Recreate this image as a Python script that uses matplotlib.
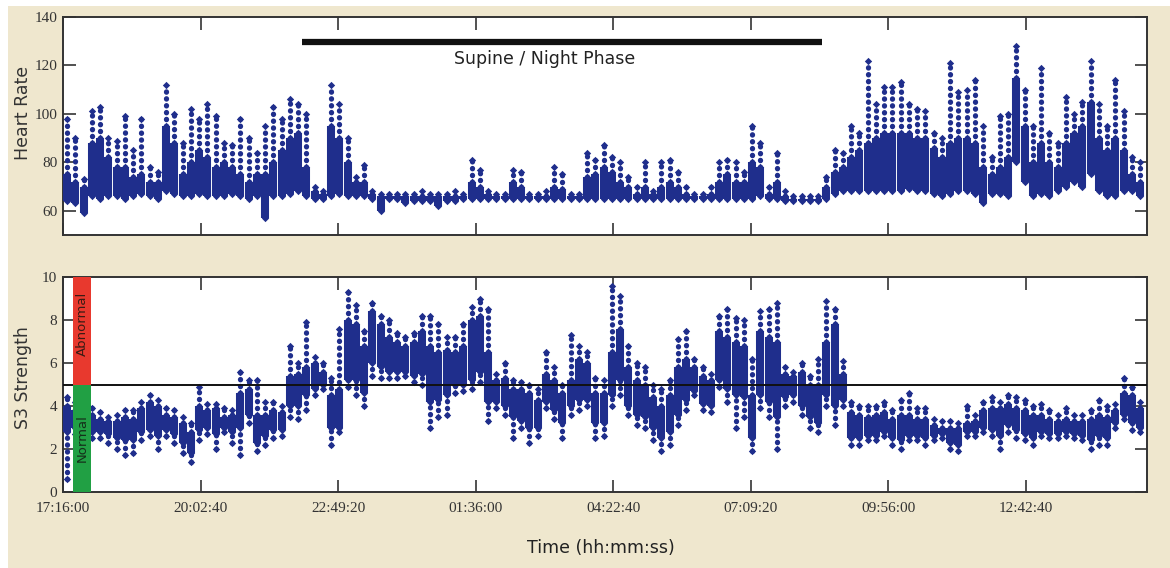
import numpy as np
import matplotlib.pyplot as plt
from matplotlib.patches import Rectangle

# 10-minute bins over the recording, seconds from 17:16:00
t = np.arange(131) * 600 + 300

# heart rate per bin: lower edge, top of dense band, top of sparse spike
hr_lo = [64, 63, 59, 66, 65, 66, 66, 65, 66, 67, 66, 65, 68, 67, 66, 66, 67, 66, 66, 66,
         67, 66, 65, 66, 57, 66, 66, 67, 68, 66, 65, 65, 66, 67, 66, 66, 66, 65, 60, 65,
         65, 63, 64, 64, 64, 62, 64, 64, 65, 65, 65, 65, 65, 65, 65, 65, 65, 65, 65, 65,
         65, 65, 65, 65, 65, 65, 65, 65, 65, 65, 65, 65, 65, 65, 65, 65, 65, 65, 65, 65,
         65, 65, 65, 65, 66, 65, 65, 64, 64, 64, 64, 64, 65, 67, 68, 68, 68, 68, 68, 68,
         68, 68, 69, 68, 68, 67, 66, 67, 68, 68, 67, 63, 67, 67, 66, 80, 72, 66, 67, 66,
         68, 70, 72, 70, 75, 68, 66, 66, 68, 68, 66]
hr_band = [75, 72, 70, 88, 90, 82, 78, 78, 74, 75, 72, 72, 95, 88, 75, 80, 85, 82, 78, 80,
           78, 75, 72, 75, 75, 80, 85, 90, 92, 78, 68, 67, 95, 90, 80, 72, 72, 67, 66, 66,
           66, 66, 66, 66, 66, 66, 66, 66, 66, 72, 70, 67, 66, 66, 72, 70, 66, 66, 66, 70,
           69, 66, 66, 74, 75, 78, 76, 72, 70, 67, 70, 67, 70, 72, 70, 67, 66, 66, 67, 72,
           75, 72, 72, 80, 78, 67, 72, 66, 65, 65, 65, 65, 70, 76, 78, 82, 85, 88, 90, 92,
           92, 92, 92, 90, 90, 86, 82, 88, 90, 90, 88, 78, 75, 78, 82, 115, 95, 80, 88, 80,
           78, 88, 92, 95, 105, 90, 85, 90, 85, 75, 72]
hr_peak = [98, 90, 73, 101, 103, 90, 89, 99, 85, 98, 78, 76, 112, 100, 88, 102, 98, 104, 99, 88,
           87, 98, 90, 84, 95, 103, 98, 106, 104, 100, 70, 68, 112, 104, 90, 74, 79, 68, 67, 67,
           67, 67, 67, 68, 67, 67, 67, 68, 67, 81, 77, 68, 67, 67, 77, 76, 67, 67, 68, 78,
           75, 67, 67, 84, 81, 87, 82, 80, 74, 70, 80, 68, 80, 81, 76, 70, 67, 67, 70, 80,
           81, 80, 76, 95, 88, 70, 84, 68, 66, 66, 66, 66, 74, 85, 84, 95, 92, 122, 104, 111,
           111, 113, 104, 102, 101, 92, 90, 121, 109, 110, 114, 95, 82, 99, 100, 128, 110, 95, 119, 92,
           88, 107, 100, 105, 122, 104, 95, 114, 101, 82, 80]

# S3 strength per bin: sparse low, dense band low/high, sparse high
s3_min = [0.6, 2.7, 2.6, 2.5, 2.5, 2.3, 2.0, 1.7, 1.8, 2.4, 2.6, 2.0, 2.6, 2.3, 1.8, 1.4, 2.4, 2.7, 2.0, 2.8,
          2.3, 1.7, 3.2, 1.9, 2.2, 2.5, 2.6, 3.5, 3.4, 3.8, 4.5, 4.8, 2.2, 2.8, 4.9, 4.5, 4.0, 5.4, 5.3, 5.3,
          5.3, 5.4, 5.1, 5.0, 3.0, 3.5, 3.6, 4.6, 4.7, 4.8, 5.1, 3.3, 3.9, 3.6, 2.5, 3.0, 2.3, 2.6, 3.9, 3.4,
          2.5, 3.6, 3.8, 4.0, 2.5, 2.6, 4.0, 4.5, 3.6, 3.1, 3.0, 2.4, 1.9, 2.2, 3.1, 3.8, 4.5, 3.8, 3.7, 4.9,
          4.2, 3.0, 3.5, 1.9, 3.9, 3.5, 2.0, 4.0, 4.2, 3.6, 3.0, 2.8, 4.0, 3.1, 4.0, 2.2, 2.2, 2.4, 2.4, 2.6,
          2.2, 2.0, 2.4, 2.4, 2.2, 2.4, 2.5, 2.0, 1.9, 2.6, 2.6, 2.8, 2.6, 2.0, 2.8, 2.5, 2.4, 2.2, 2.6, 2.5,
          2.5, 2.6, 2.5, 2.4, 2.0, 2.2, 2.2, 3.0, 3.4, 2.9, 2.8]
s3_lo = [2.8, 3.0, 2.9, 2.8, 2.8, 2.7, 2.5, 2.4, 2.4, 2.8, 2.9, 2.6, 2.9, 2.7, 2.3, 1.8, 2.9, 3.0, 2.7, 3.0,
         2.8, 3.0, 3.6, 2.3, 2.6, 2.9, 2.9, 4.0, 4.0, 4.5, 4.8, 5.0, 3.0, 3.0, 5.2, 5.2, 4.6, 6.0, 5.8, 5.6,
         5.6, 5.6, 5.4, 5.5, 4.2, 4.3, 4.5, 5.0, 5.0, 5.2, 5.6, 4.2, 4.2, 4.0, 3.5, 3.3, 3.0, 3.0, 4.2, 3.8,
         3.2, 4.0, 4.3, 4.3, 3.2, 3.2, 4.5, 5.2, 4.0, 3.6, 3.5, 3.0, 2.5, 2.8, 3.6, 4.3, 4.7, 4.1, 4.0, 5.2,
         4.8, 4.5, 4.4, 2.5, 4.5, 4.2, 3.5, 4.4, 4.5, 4.0, 3.5, 3.2, 4.5, 4.0, 4.3, 2.5, 2.5, 2.6, 2.6, 2.8,
         2.5, 2.4, 2.6, 2.6, 2.5, 2.6, 2.7, 2.3, 2.2, 2.8, 2.8, 3.0, 2.9, 2.6, 3.1, 2.9, 2.7, 2.5, 2.8, 2.7,
         2.7, 2.8, 2.7, 2.6, 2.4, 2.6, 2.5, 3.2, 3.6, 3.2, 3.0]
s3_hi = [4.0, 3.8, 3.7, 3.6, 3.4, 3.3, 3.3, 3.5, 3.4, 3.9, 4.2, 4.0, 3.6, 3.5, 3.2, 2.8, 4.0, 3.8, 3.9, 3.5,
         3.6, 4.6, 4.8, 3.6, 3.6, 3.8, 3.7, 5.4, 5.5, 5.8, 6.0, 5.6, 4.5, 4.8, 8.0, 7.8, 6.8, 8.4, 7.8, 7.2,
         7.0, 6.8, 7.0, 7.5, 6.8, 6.5, 6.6, 6.5, 6.8, 8.0, 8.2, 6.5, 5.2, 5.3, 4.8, 4.8, 4.6, 4.3, 5.5, 5.2,
         4.6, 5.2, 6.2, 6.0, 4.6, 4.6, 6.5, 7.6, 5.8, 5.2, 5.0, 4.4, 4.0, 4.5, 5.8, 6.2, 5.8, 5.4, 5.2, 7.5,
         7.2, 7.0, 6.8, 4.5, 7.5, 7.2, 7.0, 5.5, 5.4, 5.6, 5.0, 5.0, 7.0, 7.8, 5.5, 3.7, 3.6, 3.5, 3.6, 3.7,
         3.4, 3.6, 3.6, 3.4, 3.4, 3.1, 3.0, 3.0, 3.0, 3.2, 3.3, 3.8, 3.9, 3.9, 4.1, 3.9, 3.8, 3.6, 3.6, 3.4,
         3.3, 3.4, 3.3, 3.3, 3.4, 3.6, 3.5, 3.8, 4.6, 4.5, 3.9]
s3_max = [4.4, 4.2, 4.0, 3.9, 3.7, 3.5, 3.6, 3.8, 3.8, 4.2, 4.5, 4.3, 3.9, 3.8, 3.5, 3.2, 4.9, 4.1, 4.1, 3.9,
          3.8, 5.6, 5.2, 5.2, 4.2, 4.2, 4.0, 6.8, 6.0, 7.9, 6.3, 6.0, 5.3, 7.6, 9.3, 8.7, 7.5, 8.8, 8.2, 8.0,
          7.4, 7.2, 7.4, 8.2, 8.2, 7.8, 7.2, 7.2, 7.8, 8.6, 9.0, 8.5, 5.5, 6.0, 5.2, 5.1, 5.0, 4.8, 6.5, 5.8,
          5.0, 7.3, 6.8, 6.5, 5.3, 5.2, 9.6, 9.1, 6.8, 6.0, 5.8, 5.0, 4.8, 5.2, 7.1, 7.5, 6.2, 5.8, 5.5, 8.2,
          8.5, 8.1, 8.0, 6.2, 8.4, 8.5, 8.8, 5.8, 5.6, 6.0, 5.4, 6.2, 8.9, 8.5, 6.1, 4.2, 4.0, 4.0, 4.0, 4.2,
          3.8, 4.3, 4.6, 3.9, 3.9, 3.4, 3.3, 3.3, 3.2, 4.0, 3.6, 4.2, 4.4, 4.2, 4.5, 4.4, 4.3, 4.0, 4.1, 3.8,
          3.6, 3.9, 3.6, 3.6, 3.8, 4.3, 4.0, 4.1, 5.3, 4.9, 4.2]

tick_secs = [0, 10000, 20000, 30000, 40000, 50000, 60000, 70000]
tick_labels = ['17:16:00', '20:02:40', '22:49:20', '01:36:00',
               '04:22:40', '07:09:20', '09:56:00', '12:42:40']
night_phase = (17400, 55200)
s3_threshold = 5
zone_x = (730, 2030)

DOT = '#1f2e8c'
BEIGE = '#efe7ce'
INK = '#333333'
tick_font = dict(family='Liberation Serif', size=11, color=INK)


def style_axes(ax, xpad=4):
    for s in ax.spines.values():
        s.set_color(INK)
        s.set_linewidth(1.4)
    ax.tick_params(which='both', direction='in', length=9, width=1.2, color=INK,
                   top=True, right=True, pad=4)
    ax.tick_params(axis='x', pad=xpad)
    ax.set_xlim(0, 78800)
    ax.set_xticks(tick_secs)
    for lab in ax.get_yticklabels():
        lab.set(**tick_font)


def diamonds(ax, y):
    ax.scatter(t, y, marker='D', s=14, color=DOT, lw=0, zorder=4)


def scatter_bins(ax, lo, hi, tail_lo=None, tail_hi=None):
    # dense part of each bin as a solid column, sparse tails as stacked dots
    ax.vlines(t, lo, hi, color=DOT, lw=5.8, zorder=3)
    diamonds(ax, lo)
    diamonds(ax, hi)
    if tail_lo is not None:
        ax.vlines(t, tail_lo, lo, color=DOT, lw=3.8, linestyles=(0, (0.05, 1.25)),
                  capstyle='round', zorder=3)
        diamonds(ax, tail_lo)
    if tail_hi is not None:
        ax.vlines(t, hi, tail_hi, color=DOT, lw=3.8, linestyles=(0, (0.05, 1.25)),
                  capstyle='round', zorder=3)
        diamonds(ax, tail_hi)


fig = plt.figure(figsize=(11.7, 5.68), dpi=100)
fig.patch.set_facecolor('white')
fig.patches.append(Rectangle((8 / 1170, 0), 1, 1 - 6 / 568, transform=fig.transFigure,
                             facecolor=BEIGE, edgecolor='none', zorder=-10))

# heart rate
ax1 = fig.add_axes([0.0538, 0.5863, 0.9265, 0.3838])
scatter_bins(ax1, hr_lo, hr_band, tail_hi=hr_peak)
ax1.set_ylim(50, 140)
ax1.set_yticks([60, 80, 100, 120, 140])
style_axes(ax1)
ax1.set_xticklabels([])
ax1.hlines(129.7, *night_phase, color='#111111', lw=4.5, zorder=5)
ax1.text(sum(night_phase) / 2 - 1300, 122.7, 'Supine / Night Phase', ha='center', va='center',
         fontsize=12.5, color='#222222')

# S3 strength
ax2 = fig.add_axes([0.0538, 0.1338, 0.9265, 0.3785])
scatter_bins(ax2, s3_lo, s3_hi, tail_lo=s3_min, tail_hi=s3_max)
ax2.set_ylim(0, 10)
ax2.set_yticks([0, 2, 4, 6, 8, 10])
style_axes(ax2, xpad=7)
ax2.set_xticklabels(tick_labels, **tick_font)
ax2.axhline(s3_threshold, color='#111111', lw=1.4, zorder=6)
zw = zone_x[1] - zone_x[0]
ax2.bar(sum(zone_x) / 2, 10 - s3_threshold, width=zw, bottom=s3_threshold,
        color='#e8392e', zorder=7)
ax2.bar(sum(zone_x) / 2, s3_threshold, width=zw, bottom=0, color='#21a044', zorder=7)
ax2.text(sum(zone_x) / 2, 7.8, 'Abnormal', rotation=90, ha='center', va='center',
         fontsize=9.5, color='#3a1b14', zorder=8)
ax2.text(sum(zone_x) / 2, 2.5, 'Normal', rotation=90, ha='center', va='center',
         fontsize=9.5, color='#15301a', zorder=8)

fig.text(23 / 1170, 1 - 113 / 568, 'Heart Rate', rotation=90, ha='center', va='center',
         fontsize=12.5, color=INK)
fig.text(23 / 1170, 1 - 378 / 568, 'S3 Strength', rotation=90, ha='center', va='center',
         fontsize=12.5, color=INK)
fig.text(601 / 1170, 1 - 548 / 568, 'Time (hh:mm:ss)', ha='center', va='center',
         fontsize=12.5, color='#222222')

fig.savefig('out.png', dpi=100, facecolor=fig.get_facecolor())
